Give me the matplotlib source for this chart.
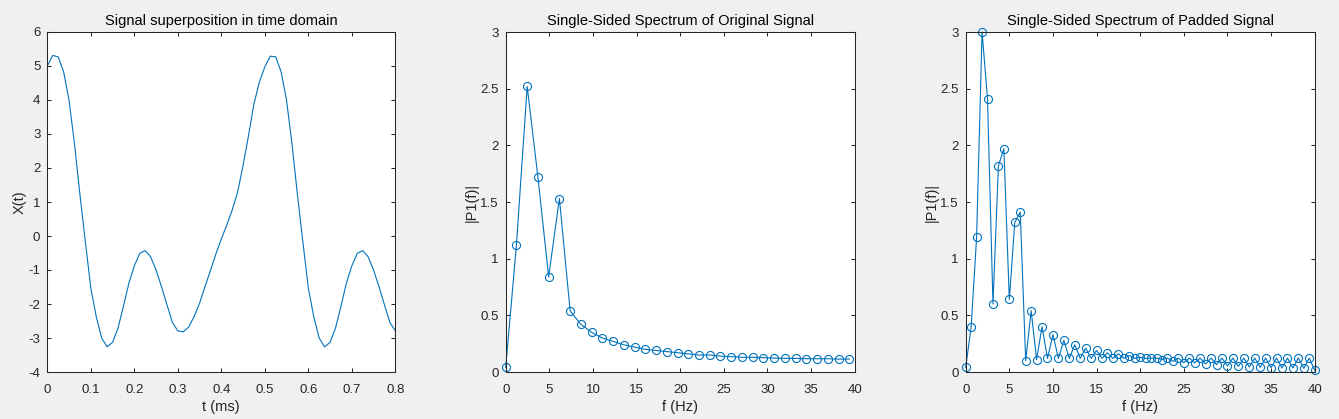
import numpy as np
import matplotlib
matplotlib.use('Agg')
import matplotlib.pyplot as plt
from matplotlib.ticker import FormatStrFormatter

plt.rcParams['font.family'] = ['Liberation Sans', 'DejaVu Sans']
plt.rcParams['axes.unicode_minus'] = False

# time signal, sampled at 80 Hz (t in "ms" as labelled)
fs = 80
x_t = [5.00, 5.31, 5.27, 4.83, 3.99, 2.71, 1.22, -0.17, -1.53, -2.37,
       -3.00, -3.26, -3.13, -2.71, -2.07, -1.39, -0.88, -0.51, -0.43, -0.61,
       -1.00, -1.49, -2.02, -2.54, -2.79, -2.82, -2.68, -2.37, -1.98, -1.49,
       -1.02, -0.53, -0.09, 0.32, 0.76, 1.29, 2.07, 2.95, 3.88, 4.53,
       4.97, 5.29, 5.27, 4.83, 3.99, 2.71, 1.22, -0.17, -1.53, -2.37,
       -3.00, -3.26, -3.13, -2.71, -2.07, -1.39, -0.88, -0.51, -0.43, -0.61,
       -1.00, -1.49, -2.02, -2.54, -2.79]

# single-sided spectrum, original (65 samples)
p1_orig = [0.04, 1.12, 2.52, 1.72, 0.84, 1.53, 0.54, 0.42, 0.35, 0.30,
           0.27, 0.24, 0.22, 0.20, 0.19, 0.18, 0.17, 0.16, 0.15, 0.15,
           0.14, 0.135, 0.13, 0.13, 0.126, 0.123, 0.12, 0.12, 0.117, 0.117,
           0.117, 0.114, 0.114]

# single-sided spectrum, zero padded to 128
p1_pad = [0.04, 0.40, 1.19, 3.00, 2.41, 0.60, 1.82, 1.97, 0.64, 1.32,
          1.41, 0.10, 0.54, 0.11, 0.40, 0.12, 0.33, 0.12, 0.28, 0.12,
          0.24, 0.12, 0.21, 0.12, 0.19, 0.12, 0.17, 0.12, 0.16, 0.12,
          0.145, 0.12, 0.13, 0.12, 0.123, 0.123, 0.11, 0.123, 0.094, 0.123,
          0.082, 0.123, 0.08, 0.123, 0.07, 0.123, 0.065, 0.123, 0.053, 0.123,
          0.05, 0.123, 0.044, 0.123, 0.041, 0.123, 0.038, 0.123, 0.035, 0.123,
          0.035, 0.123, 0.032, 0.123, 0.015]

t = np.arange(len(x_t)) / fs
f_orig = fs * np.arange(len(p1_orig)) / 65
f_pad = fs * np.arange(len(p1_pad)) / 128

blue = '#0072BD'
dark = '#262626'

fig = plt.figure(figsize=(13.39, 4.19), dpi=100, facecolor='#F0F0F0')
W, H = 1339, 419
ax1 = fig.add_axes([47.3 / W, 47 / H, 348 / W, 340 / H])
ax2 = fig.add_axes([505.7 / W, 47 / H, 349 / W, 340 / H])
ax3 = fig.add_axes([965.7 / W, 47 / H, 349 / W, 340 / H])


def style(ax):
    ax.set_facecolor('white')
    for s in ax.spines.values():
        s.set_color(dark)
        s.set_linewidth(0.75)
    ax.tick_params(direction='in', length=2.8, width=0.75, colors=dark,
                   labelsize=9.5, top=True, right=True, pad=5)
    ax.tick_params(axis='x', pad=8.5)
    ax.yaxis.set_major_formatter(FormatStrFormatter('%g'))
    ax.xaxis.set_major_formatter(FormatStrFormatter('%g'))


ax1.plot(t, x_t, color=blue, linewidth=0.8)
ax1.set_xlim(0, 0.8)
ax1.set_ylim(-4, 6)
ax1.set_xticks(np.arange(0, 0.81, 0.1))
ax1.set_yticks(np.arange(-4, 7, 1))
ax1.set_title('Signal superposition in time domain', fontsize=10.5, pad=5)
ax1.set_xlabel('t (ms)', fontsize=10.5, color=dark, labelpad=3)
ax1.set_ylabel('X(t)', fontsize=10.5, color=dark, labelpad=1)
style(ax1)

ax2.plot(f_orig, p1_orig, '-o', color=blue, linewidth=0.8,
         markersize=5.8, markerfacecolor='none', markeredgewidth=0.8)
ax2.set_title('Single-Sided Spectrum of Original Signal', fontsize=10.5, pad=5)

ax3.plot(f_pad, p1_pad, '-o', color=blue, linewidth=0.8,
         markersize=5.8, markerfacecolor='none', markeredgewidth=0.8)
ax3.set_title('Single-Sided Spectrum of Padded Signal', fontsize=10.5, pad=5)

for ax in (ax2, ax3):
    ax.set_xlim(0, 40)
    ax.set_ylim(0, 3)
    ax.set_xticks(np.arange(0, 41, 5))
    ax.set_yticks(np.arange(0, 3.01, 0.5))
    ax.set_xlabel('f (Hz)', fontsize=10.5, color=dark, labelpad=3)
    ax.set_ylabel('|P1(f)|', fontsize=10.5, color=dark, labelpad=1)
    style(ax)
    for line in ax.lines:
        line.set_clip_on(False)

fig.savefig('out.png', dpi=100, facecolor=fig.get_facecolor())
